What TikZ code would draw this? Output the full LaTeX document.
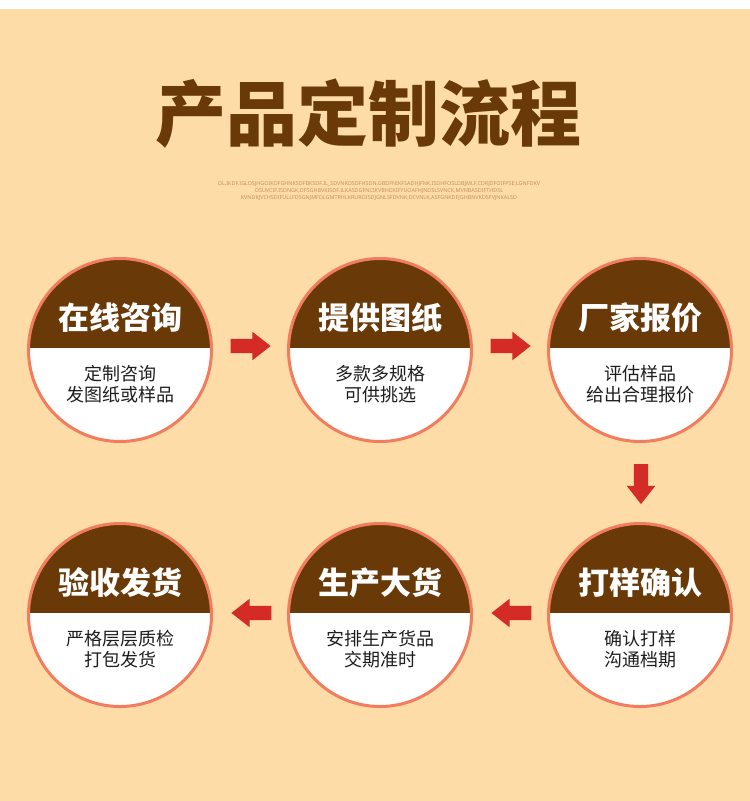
\documentclass[tikz,border=0pt]{standalone}
\usepackage{fontspec}
\setmainfont{Noto Sans}
\newfontfamily\cjk{Noto Sans CJK SC}
\usetikzlibrary{calc,shapes.arrows}
\definecolor{paper}{HTML}{FEDCA8}
\definecolor{capbrown}{HTML}{6A3908}
\definecolor{ringred}{HTML}{F27C5E}
\definecolor{flowred}{HTML}{D42B27}
\definecolor{finetext}{HTML}{C4915E}
\definecolor{ink}{HTML}{1E1E1E}

\begin{document}
\begin{tikzpicture}[
  x=1pt,y=-1pt,
  stepcircle/.style={circle,draw=ringred,line width=3pt,fill=white,minimum size=183pt,inner sep=0pt,
    path picture={\fill[capbrown] (path picture bounding box.north west) rectangle ([yshift=2pt]path picture bounding box.east);}},
  steptitle/.style={font=\cjk\bfseries\fontsize{31}{31}\selectfont,text=white,inner sep=0pt},
  stepnote/.style={font=\cjk\fontsize{18}{21}\selectfont,text=ink,align=center,inner sep=0pt},
  flowarrow/.style={single arrow,fill=flowred,draw=none,minimum height=40pt,inner xsep=0pt,inner ysep=7pt,
    single arrow head extend=7pt,single arrow tip angle=76,single arrow head indent=0pt}
]
\useasboundingbox (0,0) rectangle (750,801);
\fill[white] (0,0) rectangle (750,801);
\fill[paper] (0,9) rectangle (750,801);
% heading
\node[font=\cjk\bfseries\fontsize{71}{71}\selectfont,text=capbrown,inner sep=0pt] (title) at (368,114) {产品定制流程};
\node[font=\fontsize{5.4}{7}\selectfont,text=finetext,align=center,inner sep=0pt] (filler) at (379,191)
  {OL.IKDF.IGLDSJHGOIKDFGHNKSDFBKSDF.IL\_SDVNKOSDFHSDN,GBDFNIKFSADHJFNK,ISDHFOSLDBJMLF,CDRJDFOIFPSE;LGNFDKV\\
   OSUVCIF.ISDNGK,DFSGHBVKISDF.ILKASDGFNCIKVBHDXIFYUOAFHJNDSLSVNCK,MVNBASDIFTHDSL\\
   KVNDKJVCHSDIFULLFDSGNJMFDLGMTRHLKRUROISDJGNLSFDVNK,DCVNLK,ASFGNKDFJGHBNVKDSFVJNKALSD};
% steps
\node[stepcircle] (c1) at (120,350) {};
\node[stepcircle] (c2) at (380,350) {};
\node[stepcircle] (c3) at (640,350) {};
\node[stepcircle] (c4) at (640,615) {};
\node[stepcircle] (c5) at (380,615) {};
\node[stepcircle] (c6) at (120,615) {};
\node[steptitle] (t1) at ($(c1)+(0,-32)$) {在线咨询};
\node[steptitle] (t2) at ($(c2)+(0,-32)$) {提供图纸};
\node[steptitle] (t3) at ($(c3)+(0,-32)$) {厂家报价};
\node[steptitle] (t4) at ($(c4)+(0,-32)$) {打样确认};
\node[steptitle] (t5) at ($(c5)+(0,-32)$) {生产大货};
\node[steptitle] (t6) at ($(c6)+(0,-32)$) {验收发货};
\node[stepnote] (n1) at ($(c1)+(0,34)$) {定制咨询\\发图纸或样品};
\node[stepnote] (n2) at ($(c2)+(0,34)$) {多款多规格\\可供挑选};
\node[stepnote] (n3) at ($(c3)+(0,34)$) {评估样品\\给出合理报价};
\node[stepnote] (n4) at ($(c4)+(0,34)$) {确认打样\\沟通档期};
\node[stepnote] (n5) at ($(c5)+(0,34)$) {安排生产货品\\交期准时};
\node[stepnote] (n6) at ($(c6)+(0,34)$) {严格层层质检\\打包发货};
% arrows
\node[flowarrow] (a1) at ($(c1)!0.5!(c2)+(-4,-4)$) {};
\node[flowarrow] (a2) at ($(c2)!0.5!(c3)+(-4,-4)$) {};
\node[flowarrow,rotate=-90] (a3) at ($(c3)!0.5!(c4)+(1,-3)$) {};
\node[flowarrow,rotate=180] (a4) at ($(c4)!0.5!(c5)+(6,-2)$) {};
\node[flowarrow,rotate=180] (a5) at ($(c5)!0.5!(c6)+(6,-2)$) {};
\end{tikzpicture}
\end{document}
